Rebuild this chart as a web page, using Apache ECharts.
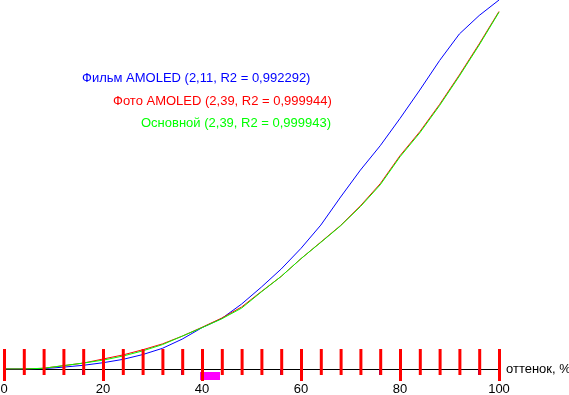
<!DOCTYPE html>
<html>
<head>
<meta charset="utf-8">
<script src="https://cdn.jsdelivr.net/npm/echarts@6/dist/echarts.min.js"></script>
<style>html,body{margin:0;padding:0;background:#fff}#c{width:569px;height:395px}</style>
</head>
<body>
<div id="c"></div>
<script>
const xValues = [0,4,8,12,16,20,24,28,32,36,40,44,48,52,56,60,64,68,72,76,80,84,88,92,96,100];
const filmAmoled = [0,0,0.1,0.5,1.0,1.7,2.6,3.9,5.6,8.1,11.2,13.7,17.6,22.2,27.1,32.7,39.0,46.6,53.9,60.5,67.9,75.6,83.6,90.8,95.8,100];
const fotoAmoled = [0,0,0.2,0.9,1.6,2.7,3.8,5.2,6.8,8.9,11.3,13.8,16.8,21.0,25.1,29.9,34.4,38.9,44.2,50.2,57.8,64.3,71.7,79.7,88.1,96.9];
const osnovnoy = [0,0,0.2,0.9,1.6,2.4,3.5,4.9,6.6,8.9,11.2,13.6,16.5,20.9,25.1,29.9,34.3,38.8,44.0,49.9,57.5,64.0,71.4,79.4,87.8,96.7];
const tickValues = [0,4,8,12,16,20,24,28,32,36,40,44,48,52,56,60,64,68,72,76,80,84,88,92,96,100];
const legendTexts = [
  {text:'Фильм AMOLED (2,11, R2 = 0,992292)', color:'#0000ff'},
  {text:'Фото AMOLED (2,39, R2 = 0,999944)', color:'#ff0000'},
  {text:'Основной (2,39, R2 = 0,999943)', color:'#00ff00'}
];
const xTitle = 'оттенок, %';

const pairs = arr => xValues.map((x,i)=>[x,arr[i]]);
const chart = echarts.init(document.getElementById('c'));
const font = 'Liberation Sans, Arial, sans-serif';
const legendPos = [[82,78],[113,101],[141,123]];
chart.setOption({
  animation:false,
  grid:{left:4,right:70,top:0,bottom:26,outerBoundsMode:'none'},
  xAxis:{
    type:'value',min:0,max:100,interval:20,
    name:xTitle,nameLocation:'end',nameGap:7,
    nameTextStyle:{color:'#000',fontSize:13,fontFamily:font,verticalAlign:'middle',padding:[0,0,2,0]},
    axisLine:{show:true,lineStyle:{color:'#000',width:1}},
    axisTick:{show:true,length:12,lineStyle:{color:'#00f',width:2}},
    minorTick:{show:true,splitNumber:5,length:6,lineStyle:{color:'#00f',width:2}},
    axisLabel:{color:'#000',fontSize:13,fontFamily:font,margin:14},
    splitLine:{show:false}
  },
  yAxis:{type:'value',min:0,max:100,
    axisLine:{show:false},axisTick:{show:false},axisLabel:{show:false},splitLine:{show:false}},
  graphic: legendTexts.map((t,i)=>({
    type:'text',left:legendPos[i][0],top:legendPos[i][1]-6,
    style:{text:t.text,fill:t.color,font:'13px '+font}
  })).concat([{type:'rect',left:200,top:372,shape:{width:20,height:8},style:{fill:'#f0f'}}]),
  series:[
    {type:'custom',silent:true,clip:false,z:5,data:tickValues.map(v=>[v,0]),encode:{x:0,y:1},
      renderItem:(params,api)=>{
        const v = api.value(0);
        const p = api.coord([v,0]);
        const len = (v % 20 === 0) ? 12 : 6;
        return {type:'rect',shape:{x:p[0]-1,y:p[1]-20,width:3,height:20+len},style:{fill:'#f00'}};
      }},
    {type:'line',data:pairs(filmAmoled),showSymbol:false,symbol:'none',lineStyle:{color:'#0000ff',width:1}},
    {type:'line',data:pairs(fotoAmoled),showSymbol:false,symbol:'none',lineStyle:{color:'#ff0000',width:1}},
    {type:'line',data:pairs(osnovnoy),showSymbol:false,symbol:'none',lineStyle:{color:'#00ff00',width:1}}
  ]
});
</script>
</body>
</html>
